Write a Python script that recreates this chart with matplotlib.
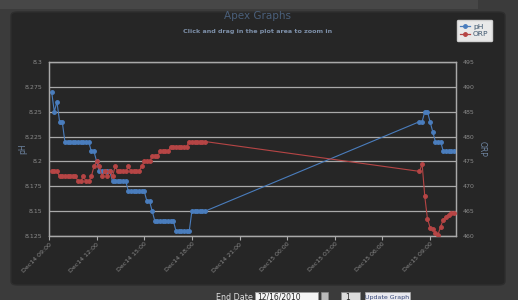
import matplotlib
matplotlib.use("Agg")
import matplotlib.pyplot as plt
import matplotlib.dates as mdates
from matplotlib.patches import FancyBboxPatch, Rectangle
from matplotlib.lines import Line2D
import pandas as pd

# ---------------- data ----------------
times = [
    "14 09:10", "14 09:20", "14 09:30", "14 09:40", "14 09:50",
    "14 10:00", "14 10:10", "14 10:20", "14 10:30", "14 10:40", "14 10:50",
    "14 11:00", "14 11:10", "14 11:20", "14 11:30", "14 11:40", "14 11:50",
    "14 12:00", "14 12:10", "14 12:20", "14 12:30", "14 12:40", "14 12:50",
    "14 13:00", "14 13:10", "14 13:20", "14 13:30", "14 13:40", "14 13:50",
    "14 14:00", "14 14:10", "14 14:20", "14 14:30", "14 14:40", "14 14:50",
    "14 15:00", "14 15:10", "14 15:20", "14 15:30", "14 15:40", "14 15:50",
    "14 16:00", "14 16:10", "14 16:20", "14 16:30", "14 16:40", "14 16:50",
    "14 17:00", "14 17:10", "14 17:20", "14 17:30", "14 17:40", "14 17:50",
    "14 18:00", "14 18:10", "14 18:20", "14 18:30", "14 18:40", "14 18:50",
    "15 08:20", "15 08:30", "15 08:40", "15 08:50", "15 09:00", "15 09:10",
    "15 09:20", "15 09:30", "15 09:40", "15 09:50", "15 10:00", "15 10:10",
    "15 10:20", "15 10:30",
]
ph = [
    8.27, 8.25, 8.26, 8.24, 8.24,
    8.22, 8.22, 8.22, 8.22, 8.22, 8.22,
    8.22, 8.22, 8.22, 8.22, 8.21, 8.21,
    8.20, 8.19, 8.19, 8.19, 8.19, 8.19,
    8.18, 8.18, 8.18, 8.18, 8.18, 8.18,
    8.17, 8.17, 8.17, 8.17, 8.17, 8.17,
    8.17, 8.16, 8.16, 8.15, 8.14, 8.14,
    8.14, 8.14, 8.14, 8.14, 8.14, 8.14,
    8.13, 8.13, 8.13, 8.13, 8.13, 8.13,
    8.15, 8.15, 8.15, 8.15, 8.15, 8.15,
    8.24, 8.24, 8.25, 8.25, 8.24, 8.23,
    8.22, 8.22, 8.22, 8.21, 8.21, 8.21,
    8.21, 8.21,
]
orp = [
    473, 473, 473, 472, 472,
    472, 472, 472, 472, 472, 471,
    471, 472, 471, 471, 472, 474,
    475, 474, 472, 473, 472, 473,
    472, 474, 473, 473, 473, 473,
    474, 473, 473, 473, 473, 474,
    475, 475, 475, 476, 476, 476,
    477, 477, 477, 477, 478, 478,
    478, 478, 478, 478, 478, 479,
    479, 479, 479, 479, 479, 479,
    473, 474.5, 468, 463.5, 461.7, 461.5,
    460.7, 460.3, 461.9, 463.3, 463.9, 464.3,
    464.6, 464.6,
]
ph_ticks = [8.125, 8.15, 8.175, 8.2, 8.225, 8.25, 8.275, 8.3]
ph_tick_labels = ["8.125", "8.15", "8.175", "8.2", "8.225", "8.25", "8.275", "8.3"]
orp_ticks = [460, 465, 470, 475, 480, 485, 490, 495]
title = "Apex Graphs"
subtitle = "Click and drag in the plot area to zoom in"

t = pd.to_datetime(["2010-12-" + s for s in times])
x_start = pd.Timestamp("2010-12-14 09:00")
x_end = pd.Timestamp("2010-12-15 10:38")

# ---------------- figure ----------------
W, H = 518, 300
fig = plt.figure(figsize=(W / 100, H / 100), dpi=100)
fig.patch.set_facecolor("#3b3b3b")

def px(x0, y0, w, h):
    return (x0 / W, 1 - (y0 + h) / H, w / W, h / H)

# top strip
r = px(0, 0, 478, 9)
fig.patches.append(Rectangle((r[0], r[1]), r[2], r[3], transform=fig.transFigure,
                             facecolor="#474747", edgecolor="none", zorder=-5))
# card
r = px(11, 12, 494, 273)
fig.patches.append(FancyBboxPatch((r[0], r[1]), r[2], r[3], transform=fig.transFigure,
                                  boxstyle="round,pad=0,rounding_size=0.012",
                                  facecolor="#262626", edgecolor="#2e2e2e", zorder=-5))

blue = "#4a7dbd"
red = "#b64545"
grid_c = "#a9a9a9"
tick_c = "#8a8a8a"

ax = fig.add_axes(px(49, 62, 407, 174))
ax.set_facecolor("none")
ax.plot(t, ph, color=blue, lw=0.8, marker="o", ms=2.5, mec=blue, mfc=blue, zorder=3)
ax.set_ylim(8.125, 8.3)
ax.set_yticks(ph_ticks)
ax.set_yticklabels(ph_tick_labels)
ax.set_xlim(x_start, x_end)
ax.xaxis.set_major_locator(mdates.HourLocator(byhour=range(0, 24, 3)))
ax.xaxis.set_major_formatter(mdates.DateFormatter("%b%d %H:%M"))
ax.grid(axis="y", color=grid_c, lw=0.9)
ax.set_axisbelow(True)
for s in ax.spines.values():
    s.set_color(grid_c)
    s.set_linewidth(0.9)
ax.tick_params(axis="y", colors=tick_c, labelsize=4.5, length=0, pad=5)
ax.tick_params(axis="x", colors=grid_c, labelcolor=tick_c, labelsize=4.5,
               length=3, width=0.8, direction="out", pad=1)
for lab in ax.get_xticklabels():
    lab.set_rotation(45)
    lab.set_ha("right")
    lab.set_rotation_mode("anchor")
ax.set_ylabel("pH", color="#6f86a3", fontsize=5.5)
ax.yaxis.set_label_coords((27 - 49) / 407, 0.5)

ax2 = ax.twinx()
ax2.plot(t, orp, color=red, lw=0.8, marker="o", ms=2.5, mec=red, mfc=red, zorder=3)
ax2.set_ylim(460, 495)
ax2.set_yticks(orp_ticks)
ax2.tick_params(axis="y", colors=tick_c, labelsize=4.5, length=0, pad=5)
for s in ax2.spines.values():
    s.set_color(grid_c)
    s.set_linewidth(0.9)
ax2.set_ylabel("ORP", color="#6f86a3", fontsize=5.5, rotation=-90, va="center")
ax2.yaxis.set_label_coords((482 - 49) / 407, 0.5)
ax2.set_xlim(x_start, x_end)

# title
fig.text(258 / W, 1 - 16 / H, title, ha="center", va="center", color="#4a5f7a", fontsize=7.5)
fig.text(258 / W, 1 - 31.5 / H, subtitle, ha="center", va="center", color="#7d8fa8",
         fontsize=4.6, fontweight="bold")

# legend
handles = [Line2D([], [], color=blue, lw=0.9, marker="o", ms=2.5),
           Line2D([], [], color=red, lw=0.9, marker="o", ms=2.5)]
leg = fig.legend(handles, ["pH", "ORP"], loc="upper right",
                 bbox_to_anchor=(496 / W, 1 - 16 / H), fontsize=5.4, frameon=True,
                 fancybox=True, framealpha=1, facecolor="#e9e9e9", edgecolor="#cfcfcf",
                 handlelength=1.3, handletextpad=0.4, borderpad=0.5, labelspacing=0.2)
for txt in leg.get_texts():
    txt.set_color("#3e576f")

# bottom controls (partially cut off)
fig.text(216 / W, 1 - 297 / H, "End Date", ha="left", va="center", color="#e0e0e0", fontsize=5.8)
r = px(255, 292, 63, 10)
fig.patches.append(Rectangle((r[0], r[1]), r[2], r[3], transform=fig.transFigure,
                             facecolor="#f4f4f4", edgecolor="#999999", lw=0.6))
fig.text(257 / W, 1 - 297 / H, "12/16/2010", ha="left", va="center", color="#222222", fontsize=5.5)
r = px(321, 292, 7, 10)
fig.patches.append(Rectangle((r[0], r[1]), r[2], r[3], transform=fig.transFigure,
                             facecolor="#bbbbbb", edgecolor="#888888", lw=0.5))
r = px(341, 292, 19, 10)
fig.patches.append(Rectangle((r[0], r[1]), r[2], r[3], transform=fig.transFigure,
                             facecolor="#dddddd", edgecolor="#888888", lw=0.5))
fig.text(345 / W, 1 - 297 / H, "1", ha="left", va="center", color="#222222", fontsize=5.5)
r = px(365, 292, 45, 10)
fig.patches.append(Rectangle((r[0], r[1]), r[2], r[3], transform=fig.transFigure,
                             facecolor="#e8e8ee", edgecolor="#aaaaaa", lw=0.5))
fig.text(387 / W, 1 - 297 / H, "Update Graph", ha="center", va="center", color="#334477",
         fontsize=4.5)

fig.savefig("out.png", dpi=100, facecolor=fig.get_facecolor())
